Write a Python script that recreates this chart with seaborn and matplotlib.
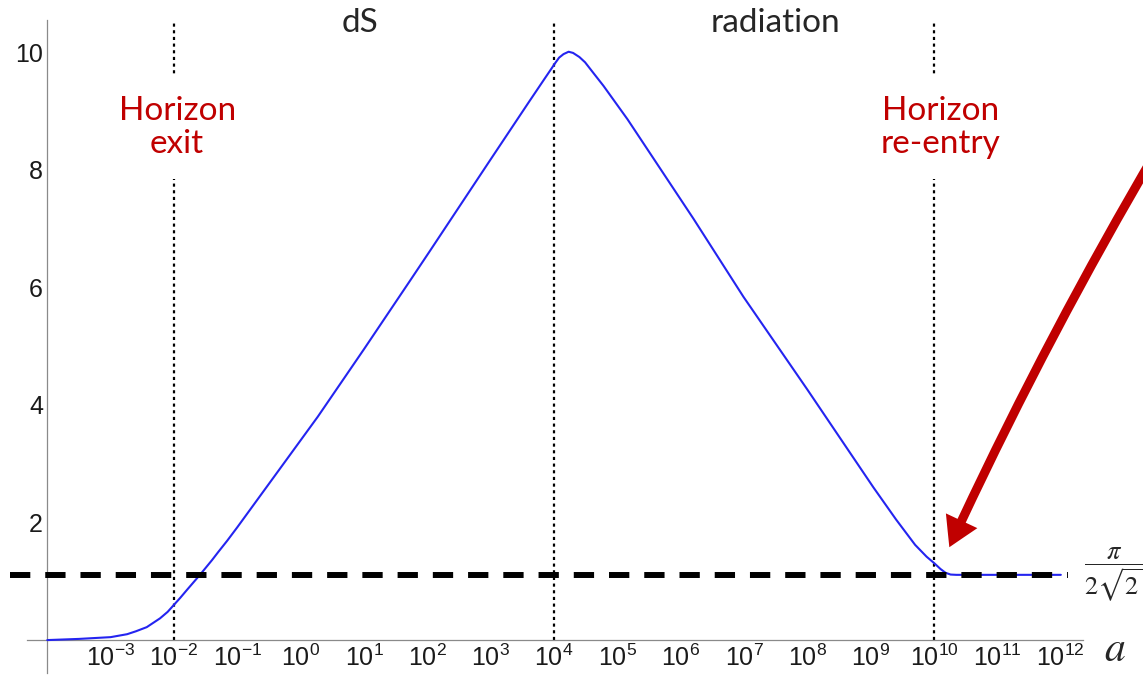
import numpy as np
import pandas as pd
import matplotlib
matplotlib.use("Agg")
import matplotlib.pyplot as plt
import matplotlib.ticker as mticker
import seaborn as sns

# ---- data ----
log_a = [-4.0, -3.5, -3.0, -2.74, -2.6, -2.43, -2.22, -2.1, -2.0, -1.9, -1.79,
         -1.59, -1.4, -1.3, -1.16, -1.0, -0.75, -0.5, 0.27, 1.0, 1.73, 2.04,
         3.0, 3.6, 3.85, 4.02, 4.08, 4.15, 4.23, 4.3, 4.4, 4.49, 4.62, 4.78,
         5.16, 6.20, 6.99, 8.0, 9.04, 9.4, 9.7, 9.88, 10.0, 10.1, 10.18,
         10.26, 10.35, 11.0, 12.0]
value = [0.0, 0.02, 0.05, 0.10, 0.15, 0.22, 0.37, 0.48, 0.60, 0.72, 0.86,
         1.11, 1.36, 1.50, 1.69, 1.92, 2.29, 2.66, 3.80, 4.95, 6.12, 6.62,
         8.18, 9.15, 9.55, 9.82, 9.91, 9.97, 10.01, 9.99, 9.92, 9.83, 9.65,
         9.43, 8.86, 7.17, 5.84, 4.26, 2.60, 2.05, 1.62, 1.42, 1.31, 1.21,
         1.145, 1.115, 1.11, 1.11, 1.11]
tick_exponents = list(range(-3, 13))
y_major = [2, 4, 6, 8, 10]
epoch_lines = [1e-2, 1e4, 1e10]
plateau = np.pi / (2 * np.sqrt(2))

df = pd.DataFrame({"a": [10.0 ** e for e in log_a], "v": value})

sns.set_style("white")
plt.rcParams["font.family"] = ["Liberation Sans", "DejaVu Sans"]
plt.rcParams["mathtext.fontset"] = "stix"

fig = plt.figure(figsize=(11.43, 6.76), dpi=100)
ax = fig.add_axes([27 / 1143, 3 / 676, 1056 / 1143, 653 / 676])
ax.set_xscale("log")
ax.set_xlim(10 ** -4.32, 10 ** 12.35)
ax.set_ylim(-0.56, 10.55)

sns.lineplot(data=df, x="a", y="v", ax=ax, color="#2424f0", lw=1.5, zorder=3)
ax.set_xlabel("")
ax.set_ylabel("")

# epoch boundaries
ax.vlines(epoch_lines, 0, ax.get_ylim()[1], colors="black", lw=1.6,
          linestyles=[(0, (1.4, 1.6))], zorder=2)

# plateau dashed line
ax.axhline(plateau, xmin=-0.016, xmax=0.986, color="black", lw=4.3,
           dashes=(3.4, 2.5), clip_on=False, zorder=4)

# spines / axes style
for s in ["top", "right"]:
    ax.spines[s].set_visible(False)
ax.spines["left"].set_position(("data", 1e-4))
ax.spines["bottom"].set_position(("data", 0))
for s in ["left", "bottom"]:
    ax.spines[s].set_color("#8a8a8a")
    ax.spines[s].set_linewidth(0.9)

ax.set_xticks([10.0 ** e for e in tick_exponents])
ax.set_xticklabels([r"$\mathregular{10^{%d}}$" % e for e in tick_exponents])
ax.xaxis.set_minor_locator(mticker.LogLocator(base=10, subs=np.arange(2, 10), numticks=40))
ax.xaxis.set_minor_formatter(mticker.NullFormatter())
ax.set_yticks(y_major)
ax.set_yticklabels([str(v) for v in y_major])
ax.yaxis.set_minor_locator(mticker.MultipleLocator(0.5))
ax.tick_params(axis="both", which="major", direction="in", length=5, width=0.9,
               color="#8a8a8a", labelsize=18, labelcolor="#1a1a1a")
ax.tick_params(axis="both", which="minor", direction="in", length=3, width=0.8,
               color="#8a8a8a")
ax.tick_params(axis="x", which="major", pad=3)
ax.tick_params(axis="y", which="major", pad=3)
ax.grid(False)

# annotations
red = "#C00000"
box = dict(facecolor="white", edgecolor="none", pad=14)
ax.text(10 ** -1.95, 8.72, "Horizon\nexit", color=red, fontsize=24, family="Lato",
        ha="center", va="center", linespacing=1.15, bbox=box, zorder=5)
ax.text(10 ** 10.1, 8.72, "Horizon\nre-entry", color=red, fontsize=24, family="Lato",
        ha="center", va="center", linespacing=1.15, bbox=box, zorder=5)

trans = ax.get_xaxis_transform()
ax.text(10 ** 0.94, 0.995, "dS", fontsize=24, family="Lato", ha="center", va="center",
        transform=trans)
ax.text(10 ** 7.49, 0.995, "radiation", fontsize=24, family="Lato", ha="center",
        va="center", transform=trans)

ax.annotate(r"$\dfrac{\pi}{2\sqrt{2}}$", xy=(1, plateau),
            xycoords=("axes fraction", "data"), xytext=(22, 0),
            textcoords="offset points", ha="center", va="center", fontsize=19,
            annotation_clip=False)
ax.annotate(r"$a$", xy=(1, 0), xycoords=("axes fraction", "data"),
            xytext=(23, -7), textcoords="offset points", ha="center", va="center",
            fontsize=30, annotation_clip=False)

# red arrow
ax.annotate("", xy=(10 ** 10.24, 1.58), xycoords="data",
            xytext=(1156 / 1143, 1 - 152 / 676), textcoords="figure fraction",
            arrowprops=dict(arrowstyle="simple,head_length=21,head_width=25,tail_width=6.5",
                            mutation_scale=1, color=red, lw=0, shrinkA=0, shrinkB=0,
                            connectionstyle="arc3,rad=0.025"),
            annotation_clip=False, zorder=6)

fig.savefig("out.png", dpi=100)
